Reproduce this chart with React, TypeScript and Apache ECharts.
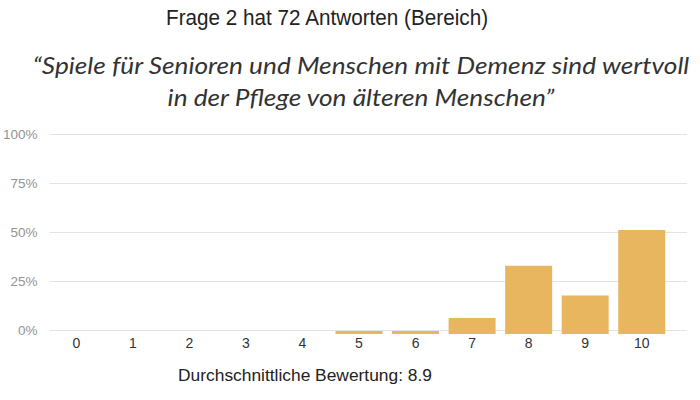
import React, { useEffect, useRef } from "react";
import * as echarts from "echarts";

const titleText = "Frage 2 hat 72 Antworten (Bereich)";
const quoteLines = [
  "\u201CSpiele für Senioren und Menschen mit Demenz sind wertvoll",
  "in der Pflege von älteren Menschen\u201D",
];
const footerText = "Durchschnittliche Bewertung: 8.9";
const categories = ["0", "1", "2", "3", "4", "5", "6", "7", "8", "9", "10"];
const percentValues = [0, 0, 0, 0, 0, 1.5, 1.5, 8.2, 34.8, 19.7, 53.1];
const yTicks = [0, 25, 50, 75, 100];

export default function App() {
  const ref = useRef<HTMLDivElement>(null);
  useEffect(() => {
    if (!ref.current) return;
    const chart = echarts.init(ref.current, null, { renderer: "svg" });
    const sans = "Liberation Sans, Arial, sans-serif";
    chart.setOption({
      animation: false,
      backgroundColor: "#ffffff",
      graphic: [
        {
          type: "text",
          x: 327,
          y: 17.5,
          scaleX: 0.92,
          silent: true,
          style: {
            text: titleText,
            align: "center",
            verticalAlign: "middle",
            fontFamily: sans,
            fontSize: 22.5,
            fill: "#222222",
          },
        },
        {
          type: "text",
          x: 361,
          y: 65,
          scaleX: 1.14,
          silent: true,
          style: {
            text: quoteLines[0],
            align: "center",
            verticalAlign: "middle",
            fontFamily: "Lato, sans-serif",
            fontStyle: "italic",
            fontSize: 23,
            fill: "#333333",
          },
        },
        {
          type: "text",
          x: 361,
          y: 97,
          scaleX: 1.14,
          silent: true,
          style: {
            text: quoteLines[1],
            align: "center",
            verticalAlign: "middle",
            fontFamily: "Lato, sans-serif",
            fontStyle: "italic",
            fontSize: 23,
            fill: "#333333",
          },
        },
        {
          type: "text",
          x: 305,
          y: 376,
          scaleX: 1.1,
          silent: true,
          style: {
            text: footerText,
            align: "center",
            verticalAlign: "middle",
            fontFamily: sans,
            fontSize: 15.8,
            fill: "#222222",
          },
        },
      ],
      grid: [
        { left: 42, right: 13, top: 134, bottom: 70 },
        { left: 48, right: 30, top: 138, bottom: 66 },
      ],
      xAxis: [
        {
          gridIndex: 0,
          type: "category",
          data: categories,
          show: false,
        },
        {
          gridIndex: 1,
          type: "category",
          data: categories,
          axisLine: { show: false },
          axisTick: { show: false },
          axisLabel: {
            margin: 2,
            fontFamily: sans,
            fontSize: 14,
            color: "#333333",
          },
        },
      ],
      yAxis: [
        {
          gridIndex: 0,
          type: "value",
          min: yTicks[0],
          max: yTicks[yTicks.length - 1],
          interval: 25,
          axisLine: { show: false },
          axisTick: { show: false },
          splitLine: { lineStyle: { color: "#e3e3e3", width: 1 } },
          axisLabel: {
            margin: 12,
            formatter: "{value}%",
            fontFamily: sans,
            fontSize: 13.5,
            color: "#939393",
          },
        },
        {
          gridIndex: 1,
          type: "value",
          min: 0,
          max: 100,
          show: false,
          splitLine: { show: false },
        },
      ],
      series: [
        {
          type: "bar",
          xAxisIndex: 1,
          yAxisIndex: 1,
          data: percentValues,
          barWidth: 47,
          itemStyle: { color: "#E7B65F" },
          silent: true,
        },
      ],
    });
    return () => chart.dispose();
  }, []);
  return <div ref={ref} style={{ width: 700, height: 400, position: "absolute", left: 0, top: 0 }} />;
}
